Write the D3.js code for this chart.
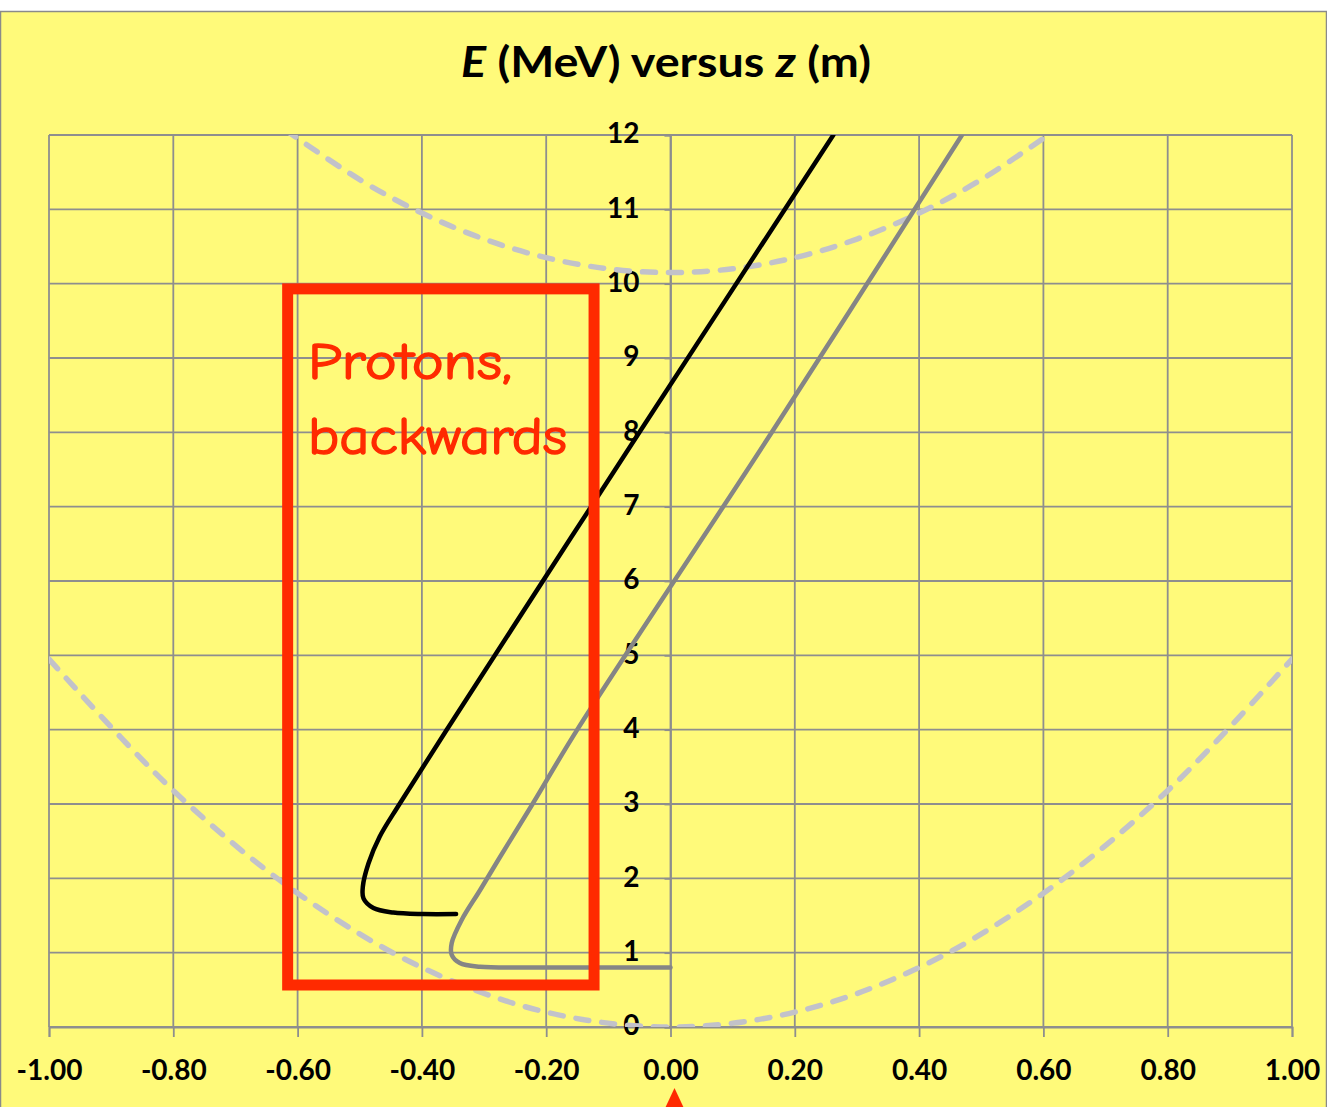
<!DOCTYPE html>
<html>
<head>
<meta charset="utf-8">
<script src="https://cdn.jsdelivr.net/npm/d3@7"></script>
<style>
  html, body { margin: 0; padding: 0; background: #ffffff; }
  svg { display: block; }
</style>
</head>
<body>
<svg id="chart" width="1327" height="1107"></svg>
<script>
// Axis ticks and their printed labels
const zTicks = [-1.0, -0.8, -0.6, -0.4, -0.2, 0.0, 0.2, 0.4, 0.6, 0.8, 1.0];
const zTickLabels = ["-1.00", "-0.80", "-0.60", "-0.40", "-0.20", "0.00", "0.20", "0.40", "0.60", "0.80", "1.00"];
const eTicks = [0, 1, 2, 3, 4, 5, 6, 7, 8, 9, 10, 11, 12];
const eTickLabels = ["0", "1", "2", "3", "4", "5", "6", "7", "8", "9", "10", "11", "12"];

// Proton trajectory 1 (black): z (m) and E (MeV)
const blackZ = [0.262, -0.050, -0.360, -0.436, -0.468, -0.486, -0.495, -0.494, -0.478, -0.446, -0.398, -0.345];
const blackE = [12.0, 8.0, 4.0, 3.00, 2.56, 2.20, 1.89, 1.73, 1.60, 1.54, 1.52, 1.52];

// Proton trajectory 2 (grey): z (m) and E (MeV)
const greyZ = [0.469, 0.163, -0.150, -0.222, -0.277, -0.3065, -0.336, -0.352, -0.352, -0.339, -0.3065, -0.226, -0.120, 0.0];
const greyE = [12.0, 8.0, 4.0, 3.0, 2.25, 1.84, 1.44, 1.13, 0.97, 0.86, 0.81, 0.80, 0.80, 0.80];

// Upper dashed envelope
const upperZ = [-0.62, -0.5, -0.4, -0.3, -0.2, -0.1, 0.0, 0.1, 0.2, 0.3, 0.4, 0.5, 0.62];
const upperE = [12.07, 11.40, 10.95, 10.60, 10.35, 10.20, 10.15, 10.20, 10.35, 10.60, 10.95, 11.40, 12.07];

// Lower dashed envelope
const lowerZ = [-1.0, -0.8, -0.6, -0.4, -0.2, 0.0, 0.2, 0.4, 0.6, 0.8, 1.0];
const lowerE = [4.95, 3.18, 1.80, 0.80, 0.20, 0.0, 0.20, 0.80, 1.80, 3.18, 4.95];

// Annotation box (data units) and its text
const boxZ = [-0.616, -0.123];
const boxE = [0.565, 9.93];
const noteLines = ["Protons,", "backwards"];

const titleParts = [
  { text: "E", italic: true },
  { text: " (MeV) versus ", italic: false },
  { text: "z", italic: true },
  { text: " (m)", italic: false }
];

const svg = d3.select("#chart");
const W = 1327, H = 1107;

const x = d3.scaleLinear().domain([-1, 1]).range([49, 1292]);
const y = d3.scaleLinear().domain([0, 12]).range([1027, 135]);

const gridColor = "#8e8e8e";
const bg = "#fffa7a";
const red = "#ff2a00";
const labelFont = "Lato, 'Open Sans', sans-serif";

// chart area
svg.append("rect")
  .attr("x", 0.5).attr("y", 11.5)
  .attr("width", W - 1).attr("height", H + 20)
  .attr("fill", bg)
  .attr("stroke", "#8a8a8a").attr("stroke-width", 1.5);

// grid
const grid = svg.append("g");
grid.selectAll("line.v").data(zTicks).join("line")
  .attr("x1", d => x(d)).attr("x2", d => x(d))
  .attr("y1", y(12)).attr("y2", y(0))
  .attr("stroke", gridColor).attr("stroke-width", 1.8);
grid.selectAll("line.h").data(eTicks).join("line")
  .attr("x1", x(-1)).attr("x2", x(1))
  .attr("y1", d => y(d)).attr("y2", d => y(d))
  .attr("stroke", gridColor).attr("stroke-width", 1.8);

// x axis at E = 0
const xAxis = d3.axisBottom(x)
  .tickValues(zTicks)
  .tickSize(10)
  .tickPadding(23)
  .tickFormat((d, i) => zTickLabels[i]);
const gx = svg.append("g")
  .attr("transform", `translate(0,${y(0)})`)
  .call(xAxis);
gx.select(".domain").attr("stroke", gridColor).attr("stroke-width", 1.8);
gx.selectAll(".tick line").attr("stroke", gridColor).attr("stroke-width", 1.8);
gx.selectAll(".tick text")
  .attr("font-family", labelFont).attr("font-weight", 700)
  .attr("font-size", 28).attr("fill", "#000");

// y axis at z = 0
const yAxis = d3.axisLeft(y)
  .tickValues(eTicks)
  .tickSize(6)
  .tickPadding(25)
  .tickFormat((d, i) => eTickLabels[i]);
const gy = svg.append("g")
  .attr("transform", `translate(${x(0)},0)`)
  .call(yAxis);
gy.select(".domain").attr("stroke", gridColor).attr("stroke-width", 1.8);
gy.selectAll(".tick line").attr("stroke", gridColor).attr("stroke-width", 1.8);
gy.selectAll(".tick text")
  .attr("font-family", labelFont).attr("font-weight", 700)
  .attr("font-size", 28).attr("fill", "#000")
  .attr("dy", "0.28em");

// plotting region clip
svg.append("clipPath").attr("id", "plotClip")
  .append("rect")
  .attr("x", x(-1)).attr("y", y(12))
  .attr("width", x(1) - x(-1)).attr("height", y(0) - y(12));

const line = d3.line()
  .x(d => x(d[0])).y(d => y(d[1]))
  .curve(d3.curveCatmullRom.alpha(0.5));

const zip = (a, b) => a.map((v, i) => [v, b[i]]);

const plot = svg.append("g").attr("clip-path", "url(#plotClip)");

// dashed envelopes
[[upperZ, upperE], [lowerZ, lowerE]].forEach(([zs, es]) => {
  plot.append("path")
    .attr("d", line(zip(zs, es)))
    .attr("fill", "none")
    .attr("stroke", "#c2c2ca")
    .attr("stroke-width", 5.5)
    .attr("stroke-linecap", "round")
    .attr("stroke-dasharray", "13,13");
});

// trajectories
plot.append("path")
  .attr("d", line(zip(greyZ, greyE)))
  .attr("fill", "none")
  .attr("stroke", "#858585")
  .attr("stroke-width", 4.5)
  .attr("stroke-linecap", "round");

plot.append("path")
  .attr("d", line(zip(blackZ, blackE)))
  .attr("fill", "none")
  .attr("stroke", "#000")
  .attr("stroke-width", 4.5)
  .attr("stroke-linecap", "round");

// annotation box
svg.append("rect")
  .attr("x", x(boxZ[0])).attr("y", y(boxE[1]))
  .attr("width", x(boxZ[1]) - x(boxZ[0]))
  .attr("height", y(boxE[0]) - y(boxE[1]))
  .attr("fill", "none")
  .attr("stroke", red)
  .attr("stroke-width", 11);

svg.append("g").selectAll("text").data(noteLines).join("text")
  .attr("x", 308)
  .attr("y", (d, i) => 379 + i * 75)
  .attr("font-family", "'Comic Sans MS', 'Comic Neue', Lato, sans-serif")
  .attr("font-size", 52)
  .attr("fill", red)
  .attr("stroke", red)
  .attr("stroke-width", 1.4)
  .attr("textLength", (d, i) => i === 0 ? 204 : 259)
  .attr("lengthAdjust", "spacingAndGlyphs")
  .text(d => d);

// title
const title = svg.append("text")
  .attr("x", 666).attr("y", 77)
  .attr("text-anchor", "middle")
  .attr("font-family", labelFont)
  .attr("font-weight", 700)
  .attr("font-size", 42)
  .attr("fill", "#000")
  .attr("textLength", 410)
  .attr("lengthAdjust", "spacingAndGlyphs");
title.selectAll("tspan").data(titleParts).join("tspan")
  .attr("font-style", d => d.italic ? "italic" : "normal")
  .text(d => d.text);

// marker below the origin
const mx = x(0) + 4, my = 1088;
svg.append("path")
  .attr("d", `M${mx},${my} L${mx + 14},${my + 30} L${mx - 14},${my + 30} Z`)
  .attr("fill", red);
</script>
</body>
</html>
